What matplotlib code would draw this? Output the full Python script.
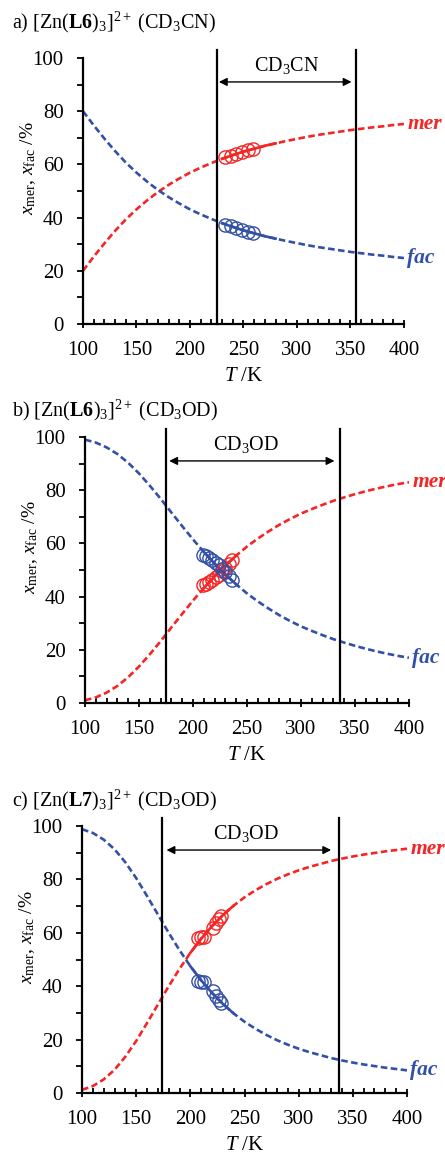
import matplotlib
matplotlib.use("Agg")
import matplotlib.pyplot as plt
import numpy as np

plt.rcParams['font.family'] = ['Liberation Serif', 'DejaVu Serif']
plt.rcParams['mathtext.fontset'] = 'custom'
plt.rcParams['mathtext.rm'] = 'Liberation Serif'
plt.rcParams['mathtext.it'] = 'Liberation Serif:italic'
plt.rcParams['mathtext.bf'] = 'Liberation Serif:bold'

# temperaturas de la curva (K)
T_curve = [100, 110, 120, 130, 140, 150, 160, 170, 180, 190, 200, 210, 220, 230, 240, 250,
           260, 270, 280, 290, 300, 310, 320, 330, 340, 350, 360, 370, 380, 390, 400]

# a) [Zn(L6)3]2+ en CD3CN
mer_a = [20.0, 25.3, 30.3, 35.0, 39.3, 43.1, 46.5, 49.6, 52.3, 54.7, 56.9, 58.8, 60.5, 62.1, 63.5, 64.8,
         65.9, 67.0, 67.9, 68.8, 69.6, 70.4, 71.1, 71.7, 72.3, 72.9, 73.4, 73.9, 74.3, 74.8, 75.2]
fac_a = [80.0, 74.7, 69.7, 65.0, 60.7, 56.9, 53.5, 50.4, 47.7, 45.3, 43.1, 41.2, 39.5, 37.9, 36.5, 35.2,
         34.1, 33.0, 32.1, 31.2, 30.4, 29.6, 28.9, 28.3, 27.7, 27.1, 26.6, 26.1, 25.7, 25.2, 24.8]
T_pts_a = [233, 238, 243, 249, 254, 259]
mer_pts_a = [62.6, 63.3, 64.0, 64.8, 65.3, 65.9]
fac_pts_a = [37.4, 36.7, 36.0, 35.2, 34.7, 34.1]

# b) [Zn(L6)3]2+ en CD3OD
mer_b = [1.0, 2.1, 3.9, 6.4, 9.7, 13.7, 18.3, 23.2, 28.4, 33.5, 38.5, 43.2, 47.6, 51.7, 55.4, 58.8,
         61.8, 64.5, 67.0, 69.2, 71.2, 72.9, 74.5, 76.0, 77.3, 78.5, 79.6, 80.6, 81.5, 82.3, 83.0]
fac_b = [99.0, 97.9, 96.1, 93.6, 90.3, 86.3, 81.7, 76.8, 71.6, 66.5, 61.5, 56.8, 52.4, 48.3, 44.6, 41.2,
         38.2, 35.5, 33.0, 30.8, 28.8, 27.1, 25.5, 24.0, 22.7, 21.5, 20.4, 19.4, 18.5, 17.7, 17.0]
T_pts_b = [209, 212, 215, 218, 221, 224, 227, 230, 233, 236]
mer_pts_b = [44.5, 44.8, 45.6, 46.4, 47.3, 48.3, 49.5, 50.9, 52.4, 53.9]
fac_pts_b = [55.5, 55.2, 54.4, 53.6, 52.7, 51.7, 50.5, 49.1, 47.6, 46.1]

# c) [Zn(L7)3]2+ en CD3OD
mer_c = [1.2, 2.6, 5.1, 8.7, 13.6, 19.5, 26.2, 33.1, 40.0, 46.5, 52.5, 57.8, 62.5, 66.6, 70.2, 73.3,
         75.9, 78.2, 80.2, 81.9, 83.4, 84.7, 85.8, 86.9, 87.8, 88.6, 89.3, 89.9, 90.5, 91.0, 91.5]
fac_c = [98.8, 97.4, 94.9, 91.3, 86.4, 80.5, 73.8, 66.9, 60.0, 53.5, 47.5, 42.2, 37.5, 33.4, 29.8, 26.7,
         24.1, 21.8, 19.8, 18.1, 16.6, 15.3, 14.2, 13.1, 12.2, 11.4, 10.7, 10.1, 9.5, 9.0, 8.5]
T_pts_c = [207, 210, 213, 221, 224, 226, 228]
mer_pts_c = [58.0, 58.3, 58.6, 61.9, 63.6, 65.0, 66.4]
fac_pts_c = [42.0, 41.7, 41.4, 38.1, 36.4, 35.0, 33.6]

titulos = [r"a) [Zn($\mathbf{L6}$)$_3$]$^{2+}$ (CD$_3$CN)",
           r"b) [Zn($\mathbf{L6}$)$_3$]$^{2+}$ (CD$_3$OD)",
           r"c) [Zn($\mathbf{L7}$)$_3$]$^{2+}$ (CD$_3$OD)"]
disolventes = [r"CD$_3$CN", r"CD$_3$OD", r"CD$_3$OD"]
limites = [(225, 355), (175, 336), (174, 337)]
flechas = [(227, 351), (178, 331), (178, 330)]
pos_texto = [290, 249, 251]
tramo_solido = [(230, 280), (210, 240), (200, 240)]

rojo = '#f42525'
azul = '#3250a6'

fig = plt.figure(figsize=(4.45, 11.53), dpi=100)
posiciones = [[0.1865, 0.7190, 0.7213, 0.2307],
              [0.1910, 0.3903, 0.7280, 0.2307],
              [0.1843, 0.0520, 0.7303, 0.2316]]
titulo_y = [0.981, 0.6444, 0.3062]

paneles = [(mer_a, fac_a, T_pts_a, mer_pts_a, fac_pts_a),
           (mer_b, fac_b, T_pts_b, mer_pts_b, fac_pts_b),
           (mer_c, fac_c, T_pts_c, mer_pts_c, fac_pts_c)]

T = np.array(T_curve)
for i, (mer, fac, tp, mp, fp) in enumerate(paneles):
    ax = fig.add_axes(posiciones[i])
    mer = np.array(mer)
    fac = np.array(fac)

    # curvas discontinuas y tramo continuo
    ax.plot(T, mer, color=rojo, lw=1.9, ls=(0, (2.5, 1.3)))
    ax.plot(T, fac, color=azul, lw=1.9, ls=(0, (2.5, 1.3)))
    lo, hi = tramo_solido[i]
    m = (T >= lo) & (T <= hi)
    ax.plot(T[m], mer[m], color=rojo, lw=1.9)
    ax.plot(T[m], fac[m], color=azul, lw=1.9)

    # puntos experimentales
    ax.plot(tp, mp, 'o', mfc='none', mec=rojo, mew=1.0, ms=9.5)
    ax.plot(tp, fp, 'o', mfc='none', mec=azul, mew=1.0, ms=9.5)

    # lineas verticales del disolvente
    for xv in limites[i]:
        ax.plot([xv, xv], [0, 103], color='black', lw=1.6, clip_on=False)
    ax.annotate('', xy=(flechas[i][0], 91), xytext=(flechas[i][1], 91),
                arrowprops=dict(arrowstyle='<|-|>', color='black', lw=1.0,
                                mutation_scale=12, shrinkA=0, shrinkB=0))
    ax.text(pos_texto[i], 97.3, disolventes[i], ha='center', va='center', fontsize=14.5)

    ax.text(403, mer[-1], 'mer', color=rojo, fontsize=15.5, fontweight='bold',
            style='italic', ha='left', va='center', clip_on=False)
    ax.text(403, fac[-1], 'fac', color=azul, fontsize=15.5, fontweight='bold',
            style='italic', ha='left', va='center', clip_on=False)

    ax.set_xlim(100, 400)
    ax.set_ylim(0, 100)
    ax.set_xticks(np.arange(100, 401, 50))
    ax.set_xticks(np.arange(100, 401, 10), minor=True)
    ax.set_yticks(np.arange(0, 101, 20))
    ax.set_yticks(np.arange(0, 101, 10), minor=True)
    ax.spines['top'].set_visible(False)
    ax.spines['right'].set_visible(False)
    ax.spines['left'].set_linewidth(1.6)
    ax.spines['bottom'].set_linewidth(1.6)
    ax.tick_params(axis='x', which='major', direction='inout', length=6, width=1.3,
                   labelsize=15, pad=9)
    ax.tick_params(axis='x', which='minor', direction='in', length=3.5, width=1.3)
    ax.tick_params(axis='y', which='both', direction='out', length=4, width=1.3,
                   labelsize=15, pad=10)

    ax.set_xlabel(r"$T$ /K", fontsize=15, labelpad=5)
    ax.set_ylabel(r"$x_{\mathrm{mer}}$, $x_{\mathrm{fac}}$ /%", fontsize=14)
    ax.yaxis.set_label_coords(-0.14, 0.585)

    fig.text(0.027, titulo_y[i], titulos[i], fontsize=14.5, ha='left', va='center')

fig.savefig('out.png', dpi=100)
